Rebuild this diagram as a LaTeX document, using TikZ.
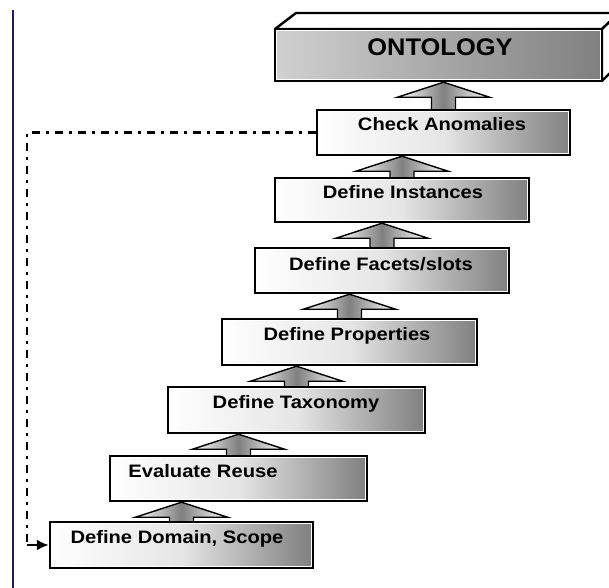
\documentclass[tikz,border=0pt]{standalone}
\usepackage{fontspec}
\setmainfont{Liberation Sans}
\usetikzlibrary{calc,arrows.meta}
\definecolor{navyline}{HTML}{1C1C5C}
\tikzset{
  stepbox/.style={draw=black, line width=2.4pt, rectangle, inner sep=0pt,
    left color=white, right color=black!50, middle color=black!10},
  innerline/.style={draw=white, line width=1pt},
  steptext/.style={anchor=base, inner sep=0pt, font=\bfseries\fontsize{18}{20}\selectfont},
  ontotext/.style={anchor=base, inner sep=0pt, font=\bfseries\fontsize{24}{26}\selectfont},
  blockarrow/.style={draw=black, line width=1.4pt, line join=miter,
    left color=white, right color=white, middle color=black!50},
  feedback/.style={line width=2.4pt, dash pattern=on 8pt off 6pt on 3pt off 6pt},
  feedtip/.style={line width=2.4pt, -{Latex[length=12pt,width=11pt]}},
  ontoface/.style={draw=black, line width=2.4pt, line join=round, fill=white}
}
\newcommand{\steplabel}[1]{\scalebox{1.12}[1]{#1}}
\newcommand{\uparr}[2]{%
  \coordinate (t#1#2) at (#2.south -| #1.north);
  \path[blockarrow] ($(#1.north)+(-12,0)$) -- ($(t#1#2)+(-12,15)$) -- ($(t#1#2)+(-46,15)$)
    -- (t#1#2) -- ($(t#1#2)+(46,15)$) -- ($(t#1#2)+(12,15)$) -- ($(#1.north)+(12,0)$);
}
\begin{document}
\begin{tikzpicture}[x=1pt,y=-1pt]
\useasboundingbox (0,0) rectangle (609,587);
\clip (0,0) rectangle (609,587);
\fill[white] (0,0) rectangle (609,587);

% left frame line
\draw[navyline, line width=2.2pt] (13,10) -- (13,590);

% ONTOLOGY 3D box
\path[ontoface] (275,29) -- (296,13) -- (619,13) -- (602,29) -- cycle;
\path[ontoface] (602,29) -- (619,13) -- (619,64) -- (602,81) -- cycle;
\node[draw=black, line width=2.4pt, inner sep=0pt, minimum width=327pt, minimum height=52pt,
  left color=black!18, right color=black!50] (onto) at (438.5,55) {};
\draw[innerline] ($(onto.north west)+(3,3)$) rectangle ($(onto.south east)+(-3,-3)$);
\node[ontotext] (ontot) at (440,55) {\scalebox{1.06}[1]{ONTOLOGY}};

% step boxes
\node[stepbox, minimum width=253pt, minimum height=45pt] (check) at (443.5,132.5) {};
\node[stepbox, minimum width=254pt, minimum height=44pt] (inst) at (402,200) {};
\node[stepbox, minimum width=254pt, minimum height=45pt] (facet) at (382,270.5) {};
\node[stepbox, minimum width=255pt, minimum height=46pt] (prop) at (349.5,342) {};
\node[stepbox, minimum width=257pt, minimum height=46pt] (tax) at (296.5,410) {};
\node[stepbox, minimum width=257pt, minimum height=45pt] (reuse) at (238.5,478.5) {};
\node[stepbox, minimum width=263pt, minimum height=46pt] (dom) at (181.5,545) {};

\foreach \b in {check,inst,facet,prop,tax,reuse,dom}
  \draw[innerline] ($(\b.north west)+(3,3)$) rectangle ($(\b.south east)+(-3,-3)$);

% labels
\node[steptext] (checkt) at (442,130) {\steplabel{Check Anomalies}};
\node[steptext] (instt) at (403,198) {\steplabel{Define Instances}};
\node[steptext] (facett) at (381,270) {\steplabel{Define Facets/slots}};
\node[steptext] (propt) at (347,340) {\steplabel{Define Properties}};
\node[steptext] (taxt) at (296,408) {\steplabel{Define Taxonomy}};
\node[steptext] (reuset) at (203,477) {\steplabel{Evaluate Reuse}};
\node[steptext] (domt) at (177,543) {\steplabel{Define Domain, Scope}};

% block arrows
\uparr{dom}{reuse}
\uparr{reuse}{tax}
\uparr{tax}{prop}
\uparr{prop}{facet}
\uparr{facet}{inst}
\uparr{inst}{check}
\uparr{check}{onto}

% feedback loop
\coordinate (fb) at (27,132.5);
\draw[feedback] (check.west) -- (fb) -- (fb |- dom.west);
\draw[feedtip] (fb |- dom.west) -- (dom.west);
\end{tikzpicture}
\end{document}
